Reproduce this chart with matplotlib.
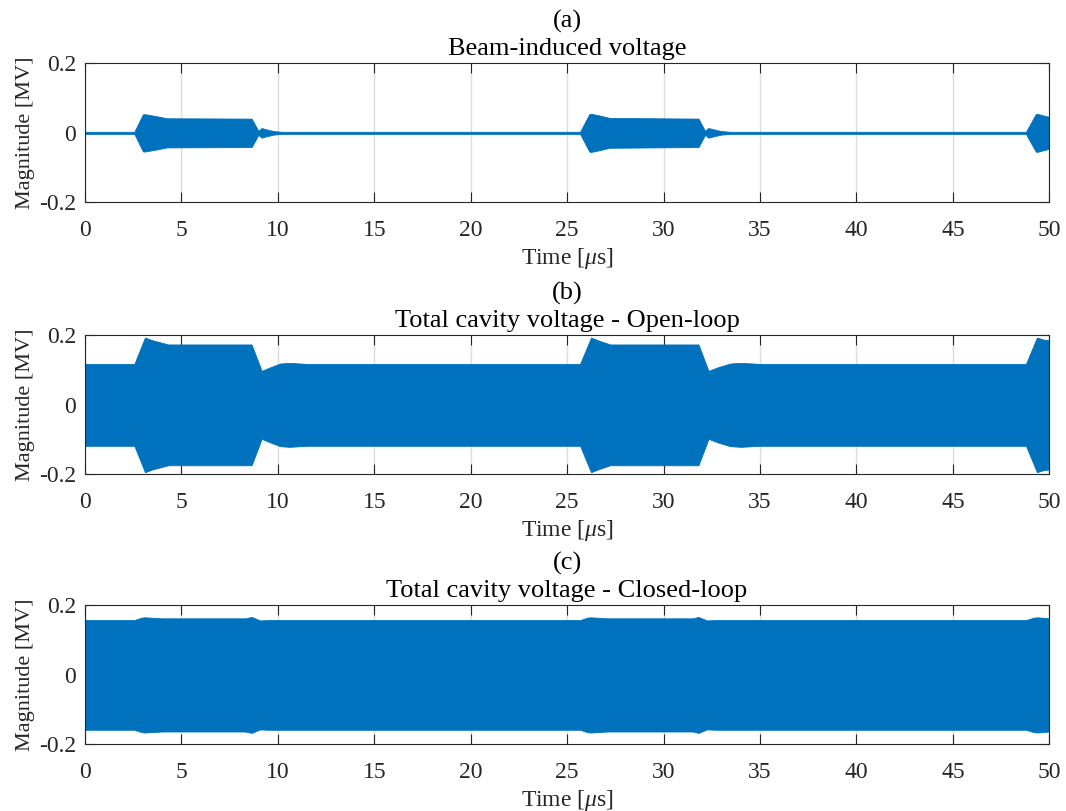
import matplotlib
matplotlib.use('Agg')
import matplotlib.pyplot as plt

plt.rcParams['font.family'] = ['Liberation Serif', 'DejaVu Serif']
plt.rcParams['mathtext.fontset'] = 'custom'
plt.rcParams['mathtext.rm'] = 'Liberation Serif'
plt.rcParams['mathtext.it'] = 'Liberation Serif:italic'

# ---- envelope breakpoints of the RF signals (time in us, amplitude in MV) ----
t_beam = [0.0, 2.56, 3.0, 3.05, 3.3, 3.8, 4.24, 8.64, 8.99, 9.16, 9.4, 9.8, 10.2,
          25.67, 26.15, 26.24, 26.6, 27.2, 31.81, 32.15, 32.33, 32.6, 33.0, 33.5,
          48.79, 49.3, 49.36, 49.7, 50.0]
amp_beam = [0.003, 0.003, 0.053, 0.054, 0.052, 0.047, 0.042, 0.041, 0.006, 0.014, 0.010, 0.005, 0.003,
            0.003, 0.054, 0.055, 0.051, 0.043, 0.041, 0.006, 0.014, 0.010, 0.005, 0.003,
            0.003, 0.054, 0.055, 0.050, 0.046]

t_open = [0.0, 2.56, 3.11, 3.5, 4.32, 8.64, 9.16, 9.6, 10.11, 10.6, 11.5,
          25.67, 26.24, 26.6, 27.23, 31.81, 32.33, 32.8, 33.45, 34.0, 35.0,
          48.79, 49.36, 49.7, 50.0]
amp_open = [0.118, 0.118, 0.194, 0.186, 0.174, 0.174, 0.098, 0.108, 0.119, 0.121, 0.118,
            0.118, 0.194, 0.186, 0.174, 0.174, 0.098, 0.108, 0.119, 0.121, 0.118,
            0.118, 0.194, 0.188, 0.186]

t_closed = [0.0, 2.56, 2.94, 3.1, 4.0, 8.3, 8.64, 9.08, 9.5,
            25.67, 26.05, 26.2, 27.1, 31.5, 31.81, 32.25, 32.7,
            48.79, 49.2, 49.4, 50.0]
amp_closed = [0.158, 0.158, 0.165, 0.166, 0.163, 0.163, 0.167, 0.157, 0.158,
              0.158, 0.165, 0.166, 0.163, 0.163, 0.167, 0.157, 0.158,
              0.158, 0.165, 0.166, 0.163]

panel_tags = ['(a)', '(b)', '(c)']
panel_titles = ['Beam-induced voltage',
                'Total cavity voltage - Open-loop',
                'Total cavity voltage - Closed-loop']
x_ticks = [0, 5, 10, 15, 20, 25, 30, 35, 40, 45, 50]
y_ticks = [-0.2, 0, 0.2]
y_tick_labels = ['-0.2', '0', '0.2']

BLUE = '#0072BD'
DARK = '#262626'
FS_TICK = 17
FS_XLAB = 17
FS_YLAB = 16
FS_TITLE = 19

fig = plt.figure(figsize=(10.66, 8.11), dpi=100)
left, width, height = 0.0797, 0.9046, 0.1712
bottoms = [0.7506, 0.4152, 0.0822]

series = [(t_beam, amp_beam), (t_open, amp_open), (t_closed, amp_closed)]

for k, (t, a) in enumerate(series):
    ax = fig.add_axes([left, bottoms[k], width, height])
    lower = [-v for v in a]
    ax.fill_between(t, lower, a, color=BLUE, linewidth=0.6, edgecolor=BLUE, zorder=2)
    ax.set_xlim(0, 50)
    ax.set_ylim(-0.2, 0.2)
    ax.set_xticks(x_ticks)
    ax.set_xticklabels([str(v) for v in x_ticks])
    ax.set_yticks(y_ticks)
    ax.set_yticklabels(y_tick_labels)
    ax.grid(axis='x', color='#DCDCDC', linewidth=1.0, zorder=0)
    ax.set_axisbelow(True)
    ax.tick_params(direction='in', length=7.2, width=0.8, colors=DARK,
                   top=True, right=True, labelsize=FS_TICK)
    ax.tick_params(axis='x', pad=13)
    ax.tick_params(axis='y', pad=6.5)
    for s in ax.spines.values():
        s.set_color(DARK)
        s.set_linewidth(0.8)
        s.set_zorder(3)
    ax.set_xlabel('Time [$\\mu$s]', fontsize=FS_XLAB, color=DARK, labelpad=3.2)
    ax.set_ylabel('Magnitude [MV]', fontsize=FS_YLAB, color=DARK, labelpad=3)
    ax.annotate(panel_titles[k], xy=(0.5, 1.0), xycoords='axes fraction',
                xytext=(0, 6.0), textcoords='offset points',
                ha='center', va='baseline', fontsize=FS_TITLE, color='black')
    ax.annotate(panel_tags[k], xy=(0.5, 1.0), xycoords='axes fraction',
                xytext=(0, 25.5), textcoords='offset points',
                ha='center', va='baseline', fontsize=FS_TITLE, color='black')

fig.savefig('out.png', dpi=100, facecolor='white')
